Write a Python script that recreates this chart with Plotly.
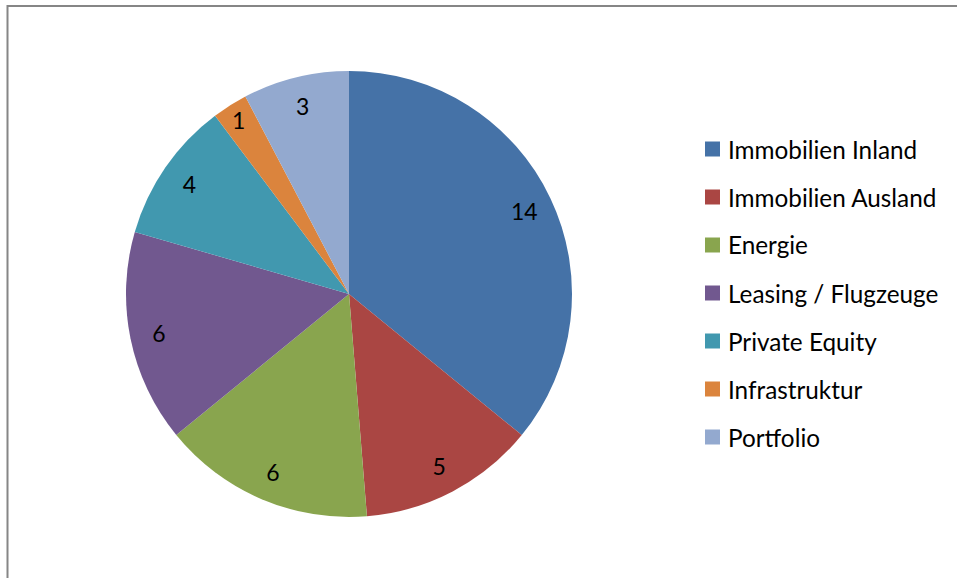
import plotly.graph_objects as go

categories = ["Immobilien Inland", "Immobilien Ausland", "Energie", "Leasing / Flugzeuge",
              "Private Equity", "Infrastruktur", "Portfolio"]
values = [14, 5, 6, 6, 4, 1, 3]
colors = ["#4572A7", "#AA4643", "#89A54E", "#71588F", "#4198AF", "#DB843D", "#93A9CF"]

W, H = 957, 578
FONT = "Lato"

def px(x):
    return x / W

def py(y):
    return 1 - y / H

cx, cy, r = 349, 294, 223
dom_x = [px(cx - r), px(cx + r)]
dom_y = [py(cy + r), py(cy - r)]

fig = go.Figure()
fig.add_trace(go.Pie(
    labels=categories, values=values, sort=False, direction="clockwise", rotation=0,
    marker=dict(colors=colors, line=dict(width=0)),
    textinfo="none", hoverinfo="label+value", showlegend=False,
    domain=dict(x=dom_x, y=dom_y),
))
# transparent ring carrying the value labels near the outer edge
fig.add_trace(go.Pie(
    labels=categories, values=values, sort=False, direction="clockwise", rotation=0,
    hole=0.74,
    marker=dict(colors=["rgba(0,0,0,0)"] * len(values), line=dict(width=0)),
    textinfo="value", textposition="inside", insidetextorientation="horizontal",
    textfont=dict(family=FONT, size=23, color="#000000"),
    hoverinfo="skip", showlegend=False,
    domain=dict(x=dom_x, y=dom_y),
))

shapes = [dict(type="rect", xref="paper", yref="paper",
               x0=px(7.5), x1=px(W + 20), y0=py(H + 20), y1=py(6),
               line=dict(color="#868686", width=2), fillcolor="rgba(0,0,0,0)")]
annotations = []
y0, gap = 149, 48
for i, (cat, col) in enumerate(zip(categories, colors)):
    yc = y0 + i * gap
    shapes.append(dict(type="rect", xref="paper", yref="paper",
                       x0=px(705), x1=px(720), y0=py(yc + 7.5), y1=py(yc - 7.5),
                       fillcolor=col, line=dict(width=0)))
    annotations.append(dict(xref="paper", yref="paper", x=px(726), y=py(yc),
                            xanchor="left", yanchor="middle", text=cat, showarrow=False,
                            font=dict(family=FONT, size=24.3, color="#000000")))

fig.update_layout(
    width=W, height=H, margin=dict(l=0, r=0, t=0, b=0),
    paper_bgcolor="white", plot_bgcolor="white",
    shapes=shapes, annotations=annotations, showlegend=False,
    font=dict(family=FONT),
)
fig.write_html("out.html", config={"displayModeBar": False},
               post_script="document.body.style.margin='0';document.body.style.overflow='hidden';")
